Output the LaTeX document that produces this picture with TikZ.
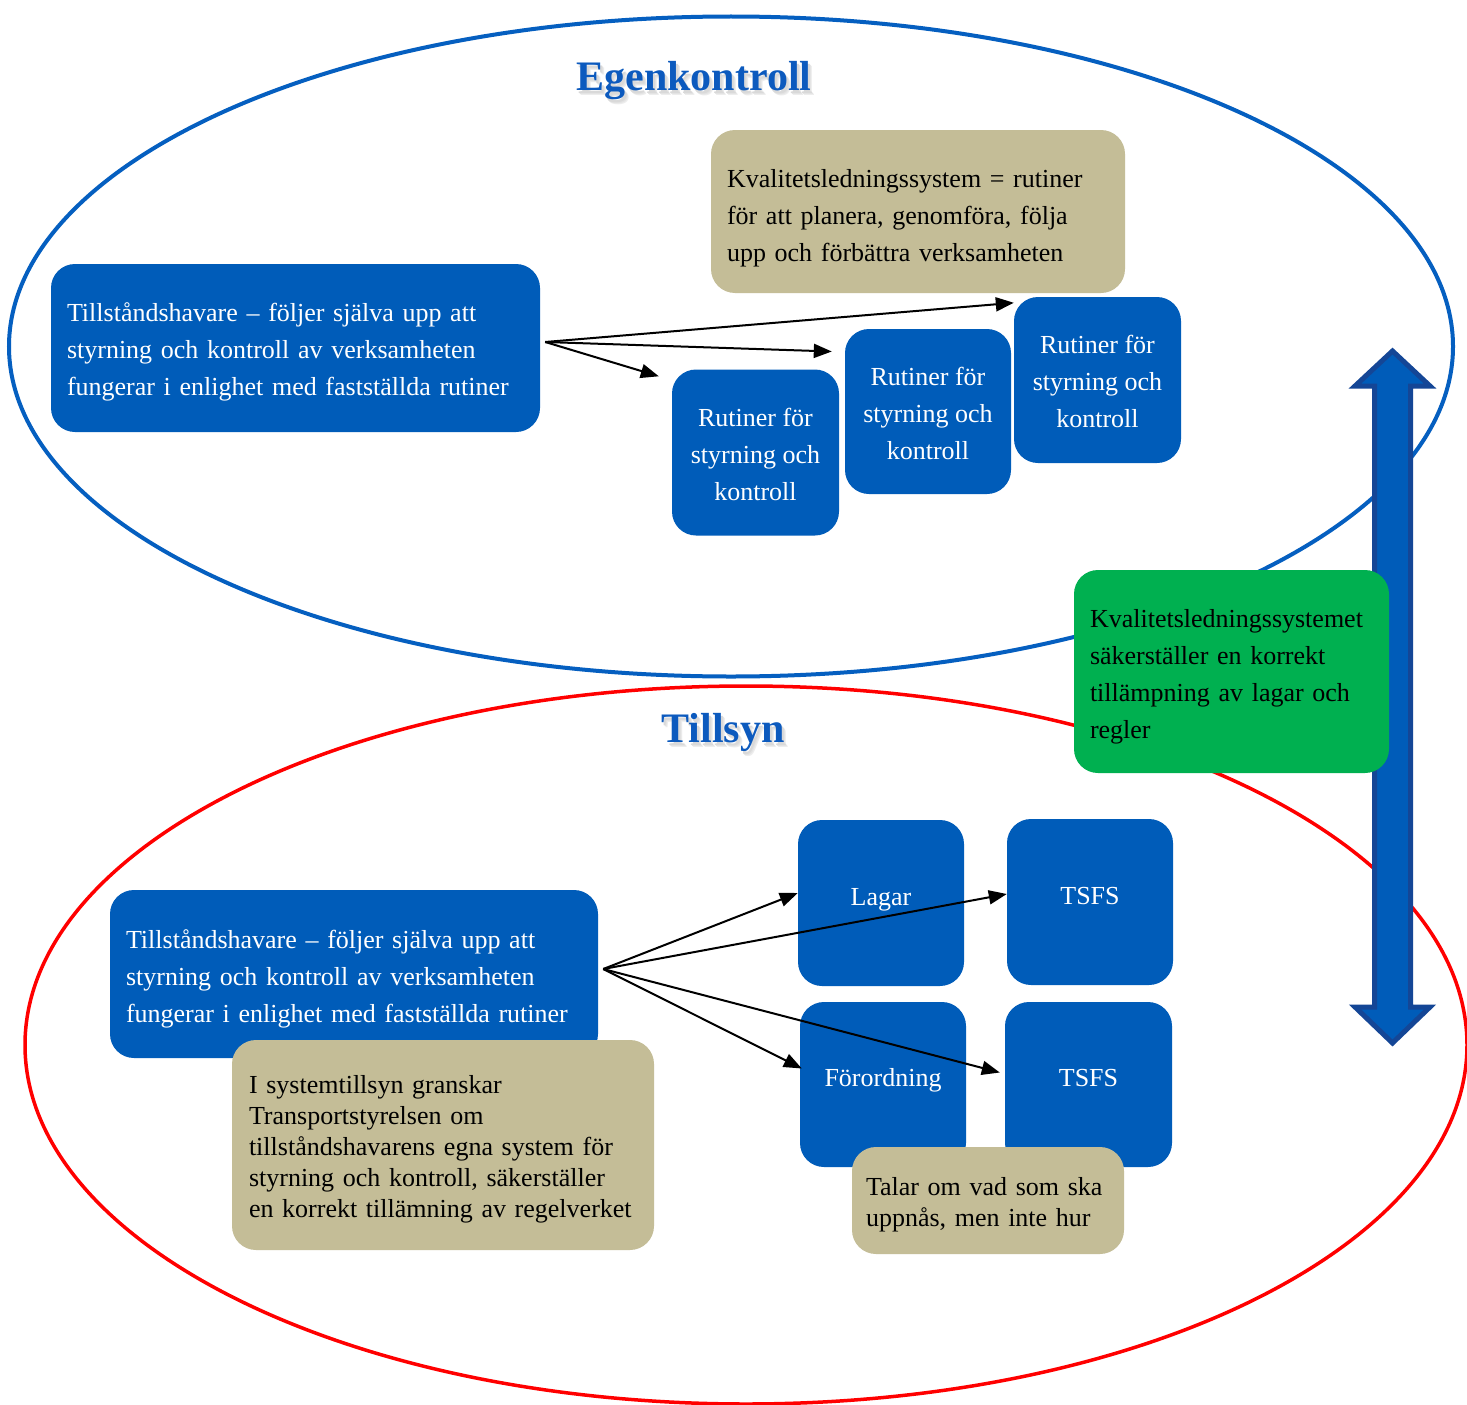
\documentclass[tikz,border=0pt]{standalone}
\usepackage{fontspec}
\setmainfont{Liberation Serif}
\usetikzlibrary{arrows.meta}

\definecolor{boxblue}{RGB}{0,92,185}
\definecolor{ringblue}{RGB}{5,95,192}
\definecolor{titleblue}{RGB}{12,90,190}
\definecolor{tan}{RGB}{196,189,151}
\definecolor{okgreen}{RGB}{0,176,80}
\definecolor{arrowedge}{RGB}{20,70,150}

% invisible strut that lowers the first line of a box text
\newcommand\toppad[1]{\rule{0pt}{#1pt}}
% heading with a soft grey shadow underneath
\newcommand\shadowed[1]{%
  \rlap{\hspace{4pt}\raisebox{-5pt}{\color{black!7}#1}}%
  \rlap{\hspace{3pt}\raisebox{-4pt}{\color{black!11}#1}}%
  \rlap{\hspace{2pt}\raisebox{-3pt}{\color{black!15}#1}}%
  #1}

\tikzset{
  body/.style={font=\fontsize{26}{37}\selectfont},
  box/.style={rounded corners=24pt, inner ysep=0pt, inner xsep=16pt, body},
  bluebox/.style={box, fill=boxblue, text=white},
  tanbox/.style={box, fill=tan, text=black},
  greenbox/.style={box, fill=okgreen, text=black},
  routine/.style={bluebox, align=center, inner xsep=4pt,
                  minimum width=167pt, minimum height=166pt},
  squarebox/.style={bluebox, inner xsep=4pt, text height=18pt, text depth=14pt,
                    minimum width=166pt, minimum height=166pt},
  titletext/.style={font=\fontsize{42}{50}\selectfont\bfseries, text=titleblue},
  link/.style={draw=black, line width=2pt,
               -{Triangle[length=18pt,width=14pt]}},
}

\begin{document}
\hyphenpenalty=10000
\begin{tikzpicture}[x=1pt, y=-1pt]
  \clip (0,0) rectangle (1467,1405);
  \fill[white] (0,0) rectangle (1467,1405);

  % the two circles of responsibility
  \draw[ringblue, line width=4pt] (731,346.5) ellipse [x radius=722, y radius=330];
  \draw[red, line width=3.5pt] (746,1045) ellipse [x radius=721, y radius=359];

  % double-headed arrow linking the two circles
  \draw[fill=boxblue, draw=arrowedge, line width=5pt, line join=miter]
    (1392.5,351) -- (1430,386) -- (1410.5,386) -- (1410.5,1007)
    -- (1430,1007) -- (1392.5,1043) -- (1355,1007) -- (1374.5,1007)
    -- (1374.5,386) -- (1355,386) -- cycle;

  % headings
  \node[titletext] (egtitle) at (694,83) {\shadowed{Egenkontroll}};
  \node[titletext] (tstitle) at (723,735) {\shadowed{Tillsyn}};

  % upper circle: self-monitoring
  \node[bluebox, align=left, text width=457pt, minimum height=168pt]
    (holder1) at (295.5,348)
    {\toppad{27}Tillståndshavare – följer själva upp att\\
     styrning och kontroll av verksamheten\\
     fungerar i enlighet med fastställda rutiner};
  \node[tanbox, align=left, text width=382pt, minimum height=163pt]
    (qms) at (918,211.5)
    {\toppad{32}Kvalitetsledningssystem = rutiner\\
     för att planera, genomföra, följa\\
     upp och förbättra verksamheten};
  \node[routine] (rout1) at (755.5,452.5) {\toppad{22}Rutiner för\\styrning och\\kontroll};
  \node[routine, minimum width=166pt, minimum height=165pt]
    (rout2) at (928,411.5) {\toppad{22}Rutiner för\\styrning och\\kontroll};
  \node[routine] (rout3) at (1097.5,380) {\toppad{22}Rutiner för\\styrning och\\kontroll};

  % lower circle: supervision
  \node[bluebox, align=left, text width=456pt, minimum height=168pt]
    (holder2) at (354,974)
    {\toppad{29}Tillståndshavare – följer själva upp att\\
     styrning och kontroll av verksamheten\\
     fungerar i enlighet med fastställda rutiner};
  \node[tanbox, align=left, text width=388pt, minimum height=210pt,
        font=\fontsize{26}{31}\selectfont, inner xsep=17pt]
    (audit) at (443,1145)
    {\toppad{26}I systemtillsyn granskar\\
     Transportstyrelsen om\\
     tillståndshavarens egna system för\\
     styrning och kontroll, säkerställer\\
     en korrekt tillämning av regelverket};
  \node[squarebox] (laws) at (881,903) {Lagar};
  \node[squarebox] (tsfs1) at (1090,902) {TSFS};
  \node[squarebox, minimum height=165pt] (ordin) at (883,1084.5) {Förordning};
  \node[squarebox, minimum width=167pt, minimum height=165pt]
    (tsfs2) at (1088.5,1084.5) {TSFS};
  \node[tanbox, align=left, text width=244pt, minimum height=107pt,
        font=\fontsize{26}{31}\selectfont, inner xsep=14pt]
    (what) at (988,1200.5)
    {\toppad{26}Talar om vad som ska\\uppnås, men inte hur};

  % note between the circles
  \node[greenbox, align=left, text width=283pt, minimum height=203pt]
    (ensure) at (1231.5,671.5)
    {\toppad{28}Kvalitetsledningssystemet\\
     säkerställer en korrekt\\
     tillämpning av lagar och\\
     regler};

  % connectors, upper circle
  \coordinate (src1) at ([xshift=5pt, yshift=6pt]holder1.east);
  \draw[link] (src1) -- ([yshift=-6pt]rout3.north west);
  \draw[link] (src1) -- ([xshift=-13pt, yshift=60pt]rout2.west);
  \draw[link] (src1) -- ([xshift=-13pt, yshift=-7pt]rout1.north west);

  % connectors, lower circle
  \coordinate (src2) at ([xshift=5pt, yshift=5pt]holder2.east);
  \draw[link] (src2) -- ([yshift=10pt]laws.west);
  \draw[link] (src2) -- ([yshift=8pt]tsfs1.west);
  \draw[link] (src2) -- ([xshift=2pt, yshift=16pt]ordin.west);
  \draw[link] (src2) -- ([xshift=-5pt, yshift=12pt]tsfs2.west);
\end{tikzpicture}
\end{document}
